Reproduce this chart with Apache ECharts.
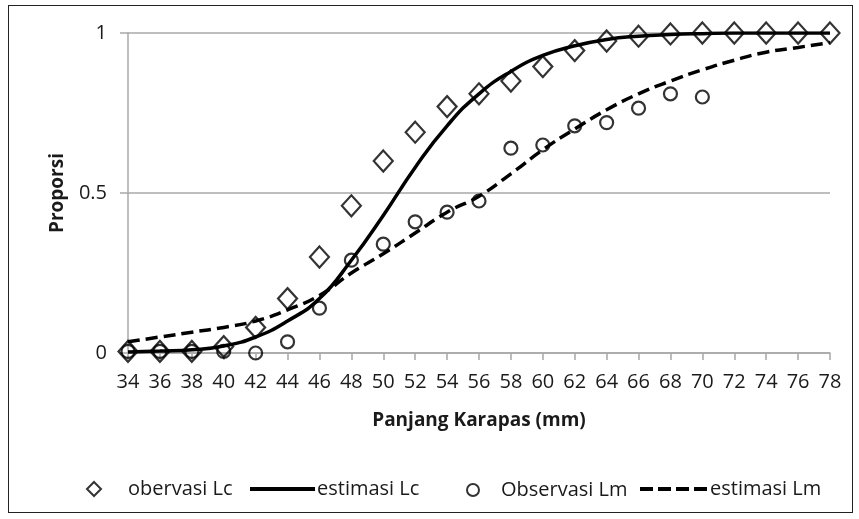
<!DOCTYPE html>
<html lang="id">
<head>
    <meta charset="UTF-8">
    <title>Proporsi</title>
    <script src="https://cdn.jsdelivr.net/npm/echarts@6/dist/echarts.min.js"></script>
    <style>
        html, body { margin: 0; padding: 0; background: #fff; }
        #frame { position: absolute; left: 8px; top: 5px; width: 843px; height: 506px; border: 1.5px solid #222; }
        #echarts { position: absolute; left: 0; top: 0; width: 859px; height: 519px; }
    </style>
</head>
<body>
<div id="frame"></div>
<div id="echarts"></div>
<script>
    // panjang karapas (mm)
    var panjang = [34, 36, 38, 40, 42, 44, 46, 48, 50, 52, 54, 56, 58, 60, 62, 64, 66, 68, 70, 72, 74, 76, 78];

    var obsLc = [0.005, 0.005, 0.005, 0.02, 0.08, 0.17, 0.30, 0.46, 0.60, 0.69, 0.77, 0.81, 0.85, 0.895, 0.945, 0.975, 0.99, 0.997, 1, 1, 1, 1, 1];
    var estLc = [0.003, 0.006, 0.01, 0.022, 0.05, 0.1, 0.17, 0.29, 0.43, 0.58, 0.71, 0.81, 0.88, 0.93, 0.96, 0.98, 0.99, 0.995, 0.998, 1, 1, 1, 1];

    var obsLm = [0.005, 0.005, 0.005, 0.005, 0, 0.035, 0.14, 0.29, 0.34, 0.41, 0.44, 0.475, 0.64, 0.65, 0.71, 0.72, 0.765, 0.81, 0.80];
    var estLm = [0.035, 0.05, 0.065, 0.08, 0.1, 0.135, 0.18, 0.25, 0.31, 0.375, 0.44, 0.49, 0.56, 0.635, 0.7, 0.76, 0.81, 0.85, 0.885, 0.915, 0.94, 0.955, 0.97];

    var yTicks = [0, 0.5, 1];

    function pairs(ys) {
        return ys.map(function (v, i) { return [panjang[i], v]; });
    }

    var font = '"Open Sans", "Noto Sans", sans-serif';
    var textColor = '#1a1a1a';
    var axisGray = '#a8a8a8';
    var chartDom = document.getElementById('echarts');
    var myChart = echarts.init(chartDom);
    var option;

    // legenda: satu komponen per item supaya posisinya bisa diatur
    var hideSymbol = { color: 'rgba(0,0,0,0)', borderColor: 'rgba(0,0,0,0)', borderWidth: 0, opacity: 0 };

    option = {
        animation: false,
        textStyle: { fontFamily: font, color: textColor },
        grid: { left: 128, right: 29, top: 33, bottom: 166 },
        xAxis: {
            type: 'value',
            min: panjang[0],
            max: panjang[panjang.length - 1],
            interval: 2,
            name: 'Panjang Karapas (mm)',
            nameLocation: 'middle',
            nameGap: 58,
            nameTextStyle: { fontFamily: font, fontWeight: 'bold', fontSize: 19, color: textColor },
            axisLine: { lineStyle: { color: axisGray, width: 1.5 } },
            axisTick: { show: true, length: 7, lineStyle: { color: axisGray, width: 1.5 } },
            axisLabel: { fontSize: 20, color: textColor, margin: 19 },
            splitLine: { show: false }
        },
        yAxis: {
            type: 'value',
            min: 0,
            max: 1,
            interval: 0.5,
            name: 'Proporsi',
            nameLocation: 'middle',
            nameGap: 61,
            nameTextStyle: { fontFamily: font, fontWeight: 'bold', fontSize: 19, color: textColor },
            axisLine: { show: true, lineStyle: { color: axisGray, width: 1.5 } },
            axisTick: { show: true, length: 8, lineStyle: { color: axisGray, width: 1.5 } },
            axisLabel: {
                fontSize: 20, color: textColor, margin: 21,
                formatter: function (v) { return yTicks.indexOf(v) >= 0 ? String(v) : ''; }
            },
            splitLine: { lineStyle: { color: axisGray, width: 1.5 } }
        },
        legend: [
            {
                left: 86, top: 479, padding: 0, itemWidth: 14, itemHeight: 14,
                textStyle: { fontSize: 20, color: textColor, padding: [0, 0, 0, 22] },
                data: ['obervasi Lc']
            },
            {
                left: 248, top: 479, padding: 0, itemWidth: 65, itemHeight: 14,
                textStyle: { fontSize: 20, color: textColor, padding: [0, 0, 0, -3] },
                data: [{ name: 'estimasi Lc', itemStyle: hideSymbol, lineStyle: { width: 4 } }]
            },
            {
                left: 466, top: 480, padding: 0, itemWidth: 12, itemHeight: 12,
                textStyle: { fontSize: 20, color: textColor, padding: [0, 0, 0, 17] },
                data: ['Observasi Lm']
            },
            {
                left: 638, top: 479, padding: 0, itemWidth: 69, itemHeight: 14,
                textStyle: { fontSize: 20, color: textColor, padding: [0, 0, 0, -4] },
                data: [{ name: 'estimasi Lm', itemStyle: hideSymbol, lineStyle: { width: 4, type: [13, 5] } }]
            }
        ],
        series: [
            {
                name: 'estimasi Lc',
                type: 'line',
                smooth: true,
                symbol: 'none',
                data: pairs(estLc),
                lineStyle: { color: '#000', width: 3.5 },
                itemStyle: { color: '#000' },
                z: 2
            },
            {
                name: 'estimasi Lm',
                type: 'line',
                smooth: true,
                symbol: 'none',
                data: pairs(estLm),
                lineStyle: { color: '#000', width: 3.5, type: [12, 6] },
                itemStyle: { color: '#000' },
                z: 2
            },
            {
                name: 'obervasi Lc',
                type: 'scatter',
                symbol: 'diamond',
                symbolSize: [19, 21],
                data: pairs(obsLc),
                itemStyle: { color: 'rgba(255,255,255,0)', borderColor: '#000', borderWidth: 2.2 },
                z: 3
            },
            {
                name: 'Observasi Lm',
                type: 'scatter',
                symbol: 'circle',
                symbolSize: 13,
                data: pairs(obsLm),
                itemStyle: { color: 'rgba(255,255,255,0)', borderColor: '#000', borderWidth: 2.2 },
                z: 3
            }
        ]
    };

    option && myChart.setOption(option);
</script>
</body>
</html>
